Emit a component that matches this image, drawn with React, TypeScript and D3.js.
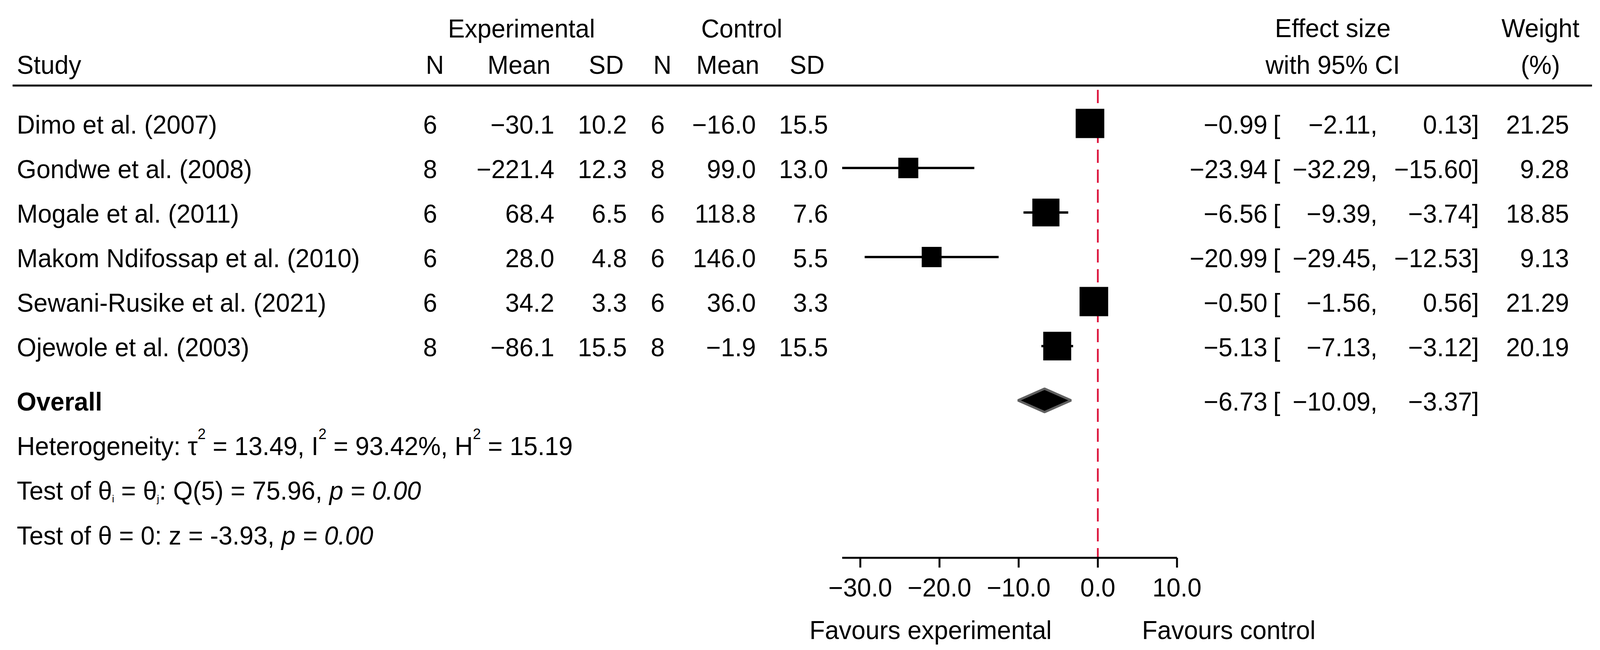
import { useEffect } from "react";
import * as d3 from "d3";

// study rows
const studies = [
  "Dimo et al. (2007)",
  "Gondwe et al. (2008)",
  "Mogale et al. (2011)",
  "Makom Ndifossap et al. (2010)",
  "Sewani-Rusike et al. (2021)",
  "Ojewole et al. (2003)",
];
const expN = [6, 8, 6, 6, 6, 8];
const expMean = [-30.1, -221.4, 68.4, 28.0, 34.2, -86.1];
const expSD = [10.2, 12.3, 6.5, 4.8, 3.3, 15.5];
const ctlN = [6, 8, 6, 6, 6, 8];
const ctlMean = [-16.0, 99.0, 118.8, 146.0, 36.0, -1.9];
const ctlSD = [15.5, 13.0, 7.6, 5.5, 3.3, 15.5];
const effect = [-0.99, -23.94, -6.56, -20.99, -0.5, -5.13];
const ciLow = [-2.11, -32.29, -9.39, -29.45, -1.56, -7.13];
const ciHigh = [0.13, -15.6, -3.74, -12.53, 0.56, -3.12];
const weight = [21.25, 9.28, 18.85, 9.13, 21.29, 20.19];

// overall estimate
const overall = { es: -6.73, lo: -10.09, hi: -3.37 };

const tickValues = [-30, -20, -10, 0, 10];

const W = 4191;
const H = 1664;
const FONT = "'Liberation Sans', Arial, Helvetica, sans-serif";
const FS = 66;

const minus = (s: string) => s.replace("-", "\u2212");
const f1 = (v: number) => minus(v.toFixed(1));
const f2 = (v: number) => minus(v.toFixed(2));

export default function App() {
  useEffect(() => {
    document.body.style.margin = "0";
    document.body.style.overflow = "hidden";
  }, []);

  const x = d3
    .scaleLinear()
    .domain([d3.min(ciLow) as number, 10])
    .range([2206, 3083]);

  const yRow = d3.scaleLinear().domain([0, studies.length - 1]).range([316, 886]);
  const yOverall = 1025;
  const axisY = 1428;
  const base = 26; // text baseline offset from row centre

  const size = d3
    .scaleSqrt()
    .domain([d3.min(weight) as number, d3.max(weight) as number])
    .range([52, 75]);

  // right-aligned column anchors
  const leftCols = [
    { head: "N", hx: 1163, vx: 1145, vals: expN.map(String) },
    { head: "Mean", hx: 1442, vx: 1452, vals: expMean.map(f1) },
    { head: "SD", hx: 1634, vx: 1642, vals: expSD.map(f1) },
    { head: "N", hx: 1759, vx: 1741, vals: ctlN.map(String) },
    { head: "Mean", hx: 1989, vx: 1980, vals: ctlMean.map(f1) },
    { head: "SD", hx: 2160, vx: 2169, vals: ctlSD.map(f1) },
  ];

  const esRow = (es: number, lo: number, hi: number, y: number, key: string) => (
    <g key={key}>
      <text x={3320} y={y} textAnchor="end">{f2(es)}</text>
      <text x={3335} y={y}>[</text>
      <text x={3608} y={y} textAnchor="end">{f2(lo) + ","}</text>
      <text x={3874} y={y} textAnchor="end">{f2(hi) + "]"}</text>
    </g>
  );

  const sup = 38;
  const sub = 26;

  return (
    <svg
      viewBox={`0 0 ${W} ${H}`}
      preserveAspectRatio="none"
      style={{ display: "block", width: "100vw", height: "100vh", background: "#fff" }}
      fontFamily={FONT}
      fontSize={FS}
      fill="#000"
    >
      <rect width={W} height={H} fill="#fff" />

      {/* headers */}
      <text x={1366} y={96} textAnchor="middle">Experimental</text>
      <text x={1943} y={96} textAnchor="middle">Control</text>
      <text x={3491} y={95} textAnchor="middle">Effect size</text>
      <text x={4035} y={95} textAnchor="middle">Weight</text>
      <text x={44} y={189}>Study</text>
      {leftCols.map((c, i) => (
        <text key={"h" + i} x={c.hx} y={189} textAnchor="end">{c.head}</text>
      ))}
      <text x={3491} y={189} textAnchor="middle">with 95% CI</text>
      <text x={4035} y={189} textAnchor="middle">(%)</text>
      <line x1={33} x2={4170} y1={219} y2={219} stroke="#000" strokeWidth={5} />

      {/* no-effect line */}
      <line
        x1={x(0)}
        x2={x(0)}
        y1={230}
        y2={axisY}
        stroke="#dc143c"
        strokeWidth={4.6}
        strokeDasharray="34 17"
      />

      {/* study rows */}
      {studies.map((s, i) => {
        const yc = yRow(i);
        const ty = yc + base;
        const side = size(weight[i]);
        return (
          <g key={s}>
            <text x={44} y={ty}>{s}</text>
            {leftCols.map((c, j) => (
              <text key={j} x={c.vx} y={ty} textAnchor="end">{c.vals[i]}</text>
            ))}
            <line x1={x(ciLow[i])} x2={x(ciHigh[i])} y1={yc} y2={yc} stroke="#000" strokeWidth={6} />
            <rect x={x(effect[i]) - side / 2} y={yc - side / 2} width={side} height={side} fill="#000" />
            {esRow(effect[i], ciLow[i], ciHigh[i], ty, "es" + i)}
            <text x={4110} y={ty} textAnchor="end">{weight[i].toFixed(2)}</text>
          </g>
        );
      })}

      {/* overall */}
      <text x={44} y={yOverall + base} fontWeight="bold">Overall</text>
      <polygon
        points={[
          [x(overall.lo), yOverall],
          [x(overall.es), yOverall - 30],
          [x(overall.hi), yOverall],
          [x(overall.es), yOverall + 30],
        ]
          .map((p) => p.join(","))
          .join(" ")}
        fill="#000"
        stroke="#606060"
        strokeWidth={6}
        strokeLinejoin="bevel"
      />
      {esRow(overall.es, overall.lo, overall.hi, yOverall + base, "overall")}

      {/* statistics */}
      <text x={44} y={1165}>
        Heterogeneity: τ<tspan fontSize={sup} dy={-41}>2</tspan>
        <tspan dy={41}> = 13.49, I</tspan>
        <tspan fontSize={sup} dy={-41}>2</tspan>
        <tspan dy={41}> = 93.42%, H</tspan>
        <tspan fontSize={sup} dy={-41}>2</tspan>
        <tspan dy={41}> = 15.19</tspan>
      </text>
      <text x={44} y={1279}>
        Test of θ<tspan fontSize={sub} dy={7}>i</tspan>
        <tspan dy={-7}> = θ</tspan>
        <tspan fontSize={sub} dy={7}>j</tspan>
        <tspan dy={-7}>: Q(5) = 75.96, </tspan>
        <tspan fontStyle="italic">p = 0.00</tspan>
      </text>
      <text x={44} y={1394}>
        Test of θ = 0: z = -3.93, <tspan fontStyle="italic">p = 0.00</tspan>
      </text>

      {/* x axis */}
      <line x1={x.range()[0]} x2={x.range()[1]} y1={axisY} y2={axisY} stroke="#000" strokeWidth={5} />
      {tickValues.map((t) => (
        <g key={t}>
          <line x1={x(t)} x2={x(t)} y1={axisY} y2={axisY + 25} stroke="#000" strokeWidth={5} />
          <text x={x(t)} y={1527} textAnchor="middle">{f1(t)}</text>
        </g>
      ))}
      <text x={x(0) - 438} y={1636} textAnchor="middle">Favours experimental</text>
      <text x={x(0) + 343} y={1636} textAnchor="middle">Favours control</text>
    </svg>
  );
}
